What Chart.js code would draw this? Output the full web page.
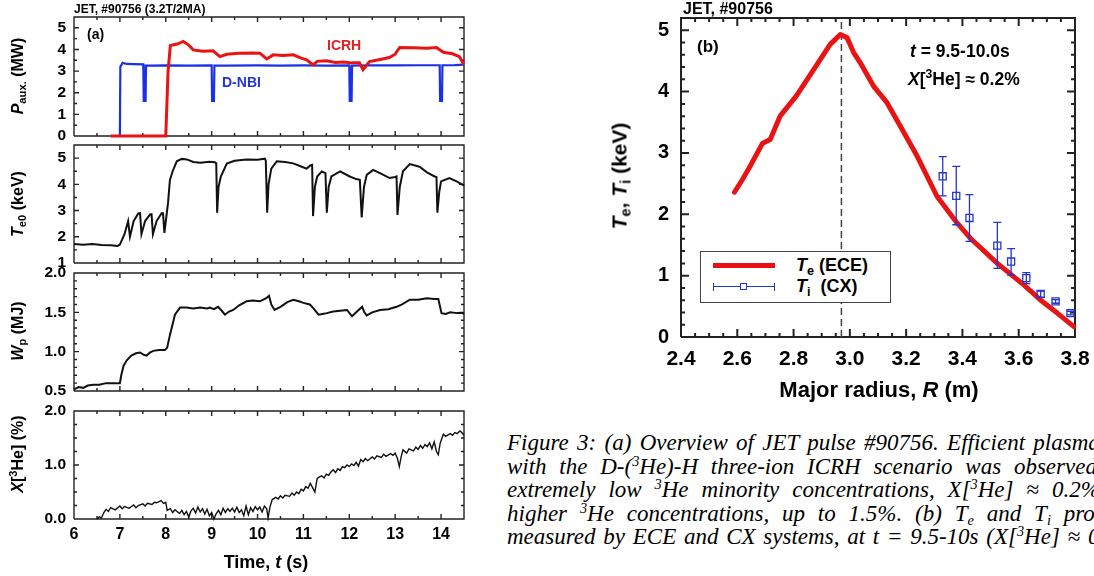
<!DOCTYPE html>
<html lang="en">
<head>
<meta charset="utf-8">
<title>JET #90756</title>
<script src="https://cdn.jsdelivr.net/npm/chart.js@4.4.1/dist/chart.umd.min.js"></script>
<style>
body {margin: 0; width: 1094px; height: 576px; overflow: hidden; position: relative; background: #fff;
      font-family: "Liberation Sans", Arial, sans-serif; color: #000;}
canvas {position: absolute;}
.lab {position: absolute; font-weight: bold; white-space: nowrap; line-height: 1;}
.rot {transform: translate(-50%, -50%) rotate(-90deg);}
.ctr {transform: translate(-50%, -50%);}
sub, sup {font-size: 70%; line-height: 0;}
sub {vertical-align: -0.3em;}
sup {vertical-align: 0.55em;}
#cap {position: absolute; left: 507px; top: 431px; font-family: "Liberation Serif", "Times New Roman", serif;
      font-style: italic; font-size: 23px; line-height: 23.6px;}
#cap div {white-space: nowrap;}
#cap sup, #cap sub {font-size: 62%;}
.sw {position: absolute;}
</style>
</head>
<body>
<canvas id="pAux" width="480" height="159" style="left:0;top:-3px"></canvas>
<canvas id="pTe" width="480" height="158" style="left:0;top:125px"></canvas>
<canvas id="pWp" width="480" height="158" style="left:0;top:253px"></canvas>
<canvas id="pHe" width="480" height="185" style="left:0;top:391px"></canvas>
<canvas id="pProf" width="505" height="387" style="left:600px;top:-7px"></canvas>

<!-- panel (a) texts -->
<div class="lab" style="left:74px;top:3px;font-size:12px">JET, #90756 (3.2T/2MA)</div>
<div class="lab" style="left:87px;top:27px;font-size:14px">(a)</div>
<div class="lab" style="left:327px;top:38px;font-size:14px;color:#e61e1e">ICRH</div>
<div class="lab" style="left:222px;top:75px;font-size:14px;color:#2233dd">D-NBI</div>
<div class="lab rot" style="left:18px;top:76px;font-size:16px"><i>P</i><sub>aux.</sub> (MW)</div>
<div class="lab rot" style="left:18px;top:204px;font-size:16px"><i>T</i><sub>e0</sub> (keV)</div>
<div class="lab rot" style="left:18px;top:331px;font-size:16px"><i>W</i><sub>p</sub> (MJ)</div>
<div class="lab rot" style="left:18px;top:454px;font-size:16px"><i>X</i>[<sup>3</sup>He] (%)</div>
<div class="lab ctr" style="left:266px;top:562px;font-size:18px">Time, <i>t</i> (s)</div>

<!-- panel (b) texts -->
<div class="lab" style="left:683px;top:1px;font-size:16px">JET, #90756</div>
<div class="lab" style="left:697px;top:38px;font-size:17px">(b)</div>
<div class="lab" style="left:910px;top:43px;font-size:17.5px"><i>t</i> = 9.5-10.0s</div>
<div class="lab" style="left:908px;top:71px;font-size:17.5px"><i>X</i>[<sup>3</sup>He] &asymp; 0.2%</div>
<div class="lab rot" style="left:619px;top:176px;font-size:21px"><i>T</i><sub>e</sub>, <i>T</i><sub>i</sub> (keV)</div>
<div class="lab ctr" style="left:879px;top:390px;font-size:22px">Major radius, <i>R</i> (m)</div>

<!-- legend of panel (b) -->
<div class="sw" style="left:700px;top:251px;width:189px;height:50px;border:1px solid #444;background:#fff"></div>
<div class="sw" style="left:713px;top:263px;width:62px;height:5px;background:#e81010"></div>
<div class="sw" style="left:713px;top:286px;width:62px;height:1.4px;background:#2535d0"></div>
<div class="sw" style="left:713px;top:283px;width:1.4px;height:8px;background:#2535d0"></div>
<div class="sw" style="left:774px;top:283px;width:1.4px;height:8px;background:#2535d0"></div>
<div class="sw" style="left:740px;top:283px;width:5px;height:5px;border:1.3px solid #2535d0;background:#fff"></div>
<div class="lab" style="left:796px;top:256px;font-size:18px"><i>T</i><sub>e</sub> (ECE)</div>
<div class="lab" style="left:796px;top:277px;font-size:18px"><i>T</i><sub>i</sub>&nbsp; (CX)</div>

<!-- caption; data-x is where the marked word should end (r) or start (l) -->
<div id="cap">
  <div data-x="1099" data-end="r">Figure 3: (a) Overview of JET pulse #90756. Efficient <span class="anc">plasma</span></div>
  <div data-x="1097" data-end="r">with the D-(<sup>3</sup>He)-H three-ion ICRH scenario was <span class="anc">observed</span></div>
  <div data-x="1100" data-end="r">extremely low <sup>3</sup>He minority concentrations, <i>X</i>[<sup>3</sup>He] &asymp; <span class="anc">0.2%</span></div>
  <div data-x="1064" data-end="l">higher <sup>3</sup>He concentrations, up to 1.5%. (b) T<sub>e</sub> and T<sub>i</sub> <span class="anc">profiles</span></div>
  <div data-x="1088" data-end="l">measured by ECE and CX systems, at t = 9.5-10s (X[<sup>3</sup>He] &asymp; <span class="anc">0.2%).</span></div>
</div>

<script>
// ---- data ----
// (a) auxiliary heating power, MW  [time s, value]
const icrhPower = [[6.8,0],[8.0,0],[8.05,3.0],[8.1,4.18],[8.25,4.25],[8.38,4.37],[8.5,4.2],[8.6,3.98],[8.8,3.92],
  [9.03,3.94],[9.18,3.67],[9.33,3.78],[9.6,3.82],[9.9,3.84],[10.05,3.83],[10.2,3.56],[10.34,3.75],[10.55,3.72],
  [10.78,3.75],[10.95,3.6],[11.07,3.52],[11.21,3.29],[11.3,3.45],[11.5,3.48],[11.7,3.4],[11.86,3.42],[12.05,3.38],
  [12.22,3.38],[12.3,3.06],[12.44,3.44],[12.7,3.55],[12.87,3.63],[13.0,3.78],[13.05,3.95],[13.1,4.09],[13.4,4.08],
  [13.7,4.06],[13.9,4.09],[14.05,3.87],[14.25,3.8],[14.4,3.67],[14.47,3.4],[14.5,3.3]];
const nbiPower = [[7.0,0],[7.01,3.2],[7.06,3.38],[7.15,3.33],[7.3,3.32],[7.51,3.31],[7.52,1.62],[7.56,1.62],[7.57,3.25],
  [7.7,3.25],[8.0,3.26],[8.5,3.25],[9.0,3.26],[9.01,1.62],[9.05,1.62],[9.06,3.25],[9.3,3.25],[10.0,3.26],[10.5,3.25],
  [11.0,3.26],[11.5,3.25],[12.0,3.26],[12.01,1.62],[12.05,1.62],[12.06,3.25],[12.5,3.27],[13.0,3.26],[13.5,3.27],
  [13.97,3.27],[13.98,1.62],[14.02,1.62],[14.03,3.27],[14.3,3.28],[14.5,3.3]];
// central electron temperature, keV
const te0 = [[6.0,1.72],[6.2,1.7],[6.4,1.72],[6.6,1.69],[6.8,1.68],[6.95,1.65],[7.0,1.7],[7.1,2.1],[7.18,2.6],[7.22,2.0],
  [7.3,2.6],[7.4,2.89],[7.44,2.9],[7.47,2.1],[7.55,2.6],[7.66,2.85],[7.69,2.86],[7.72,2.1],[7.8,2.6],[7.91,2.9],[7.94,2.9],
  [7.97,2.15],[8.05,3.3],[8.09,4.16],[8.15,4.5],[8.24,4.88],[8.35,4.97],[8.46,4.95],[8.6,4.85],[8.75,4.82],[8.95,4.86],
  [9.07,4.84],[9.1,4.8],[9.12,2.92],[9.15,3.9],[9.2,4.3],[9.33,4.79],[9.5,4.9],[9.76,4.95],[10.0,4.94],[10.16,4.98],
  [10.18,4.9],[10.21,2.92],[10.24,4.0],[10.3,4.6],[10.42,4.88],[10.6,4.85],[10.78,4.8],[10.95,4.68],[11.07,4.6],
  [11.15,4.72],[11.19,4.74],[11.21,2.79],[11.25,3.9],[11.3,4.3],[11.4,4.49],[11.48,4.43],[11.51,2.92],[11.55,3.9],
  [11.61,4.3],[11.8,4.49],[12.01,4.3],[12.15,4.2],[12.23,4.17],[12.27,2.74],[12.32,3.9],[12.38,4.36],[12.52,4.55],
  [12.7,4.4],[12.88,4.24],[13.0,4.28],[13.03,4.3],[13.05,2.83],[13.1,3.9],[13.17,4.5],[13.32,4.77],[13.53,4.67],
  [13.7,4.45],[13.86,4.3],[13.9,4.28],[13.92,2.92],[13.96,3.7],[14.0,4.11],[14.18,4.24],[14.35,4.1],[14.5,3.95]];
// plasma stored energy, MJ
const wp = [[6.0,0.52],[6.1,0.55],[6.2,0.54],[6.3,0.57],[6.42,0.58],[6.55,0.58],[6.7,0.6],[6.85,0.6],[7.0,0.6],[7.03,0.7],
  [7.08,0.82],[7.15,0.89],[7.25,0.95],[7.35,0.98],[7.44,0.99],[7.52,0.96],[7.58,0.95],[7.66,0.99],[7.73,1.01],[7.85,1.02],
  [7.98,1.02],[8.03,1.05],[8.09,1.21],[8.2,1.47],[8.31,1.56],[8.45,1.56],[8.6,1.55],[8.75,1.56],[8.9,1.55],[8.96,1.56],
  [9.05,1.54],[9.14,1.57],[9.22,1.52],[9.29,1.47],[9.38,1.51],[9.47,1.53],[9.6,1.59],[9.76,1.64],[9.9,1.65],[10.05,1.64],
  [10.19,1.68],[10.25,1.71],[10.3,1.6],[10.37,1.53],[10.5,1.57],[10.65,1.63],[10.78,1.66],[10.9,1.64],[11.0,1.62],
  [11.14,1.6],[11.22,1.55],[11.33,1.47],[11.42,1.48],[11.51,1.49],[11.65,1.51],[11.8,1.52],[11.95,1.53],[12.06,1.45],
  [12.15,1.5],[12.28,1.57],[12.33,1.5],[12.38,1.46],[12.5,1.5],[12.67,1.53],[12.85,1.54],[13.03,1.57],[13.15,1.6],
  [13.32,1.66],[13.5,1.66],[13.69,1.68],[13.85,1.67],[13.94,1.67],[14.01,1.49],[14.1,1.48],[14.2,1.5],[14.35,1.49],
  [14.47,1.49],[14.5,1.48]];
// 3He concentration, %
const he3 = [[6.5,0.0],[6.55,0.04],[6.6,0.02],[6.65,0.12],[6.7,0.18],[6.75,0.14],[6.8,0.21],[6.9,0.17],[7.0,0.24],
  [7.05,0.19],[7.1,0.23],[7.2,0.2],[7.3,0.26],[7.35,0.21],[7.4,0.25],[7.5,0.28],[7.55,0.24],[7.6,0.29],[7.7,0.27],
  [7.75,0.31],[7.8,0.3],[7.9,0.34],[7.95,0.29],[8.0,0.31],[8.03,0.16],[8.1,0.19],[8.15,0.12],[8.2,0.17],[8.3,0.1],
  [8.35,0.16],[8.4,0.08],[8.45,0.14],[8.5,0.04],[8.55,0.15],[8.6,0.2],[8.65,0.11],[8.7,0.22],[8.75,0.13],[8.8,0.19],
  [8.85,0.09],[8.9,0.18],[8.95,0.06],[9.0,0.12],[9.05,0.0],[9.1,0.1],[9.15,0.16],[9.2,0.08],[9.25,0.2],[9.3,0.12],
  [9.35,0.19],[9.4,0.14],[9.45,0.2],[9.5,0.13],[9.55,0.22],[9.6,0.12],[9.65,0.17],[9.7,0.06],[9.75,0.24],[9.8,0.08],
  [9.85,0.21],[9.9,0.14],[9.95,0.23],[10.0,0.17],[10.05,0.22],[10.1,0.13],[10.15,0.24],[10.2,0.19],[10.23,0.02],
  [10.27,0.22],[10.32,0.36],[10.4,0.4],[10.45,0.37],[10.5,0.43],[10.55,0.39],[10.6,0.44],[10.7,0.42],[10.75,0.48],
  [10.8,0.44],[10.85,0.5],[10.9,0.47],[10.95,0.55],[11.0,0.52],[11.05,0.6],[11.1,0.57],[11.15,0.66],[11.2,0.58],
  [11.25,0.5],[11.3,0.75],[11.35,0.78],[11.4,0.8],[11.45,0.76],[11.5,0.83],[11.55,0.81],[11.6,0.87],[11.65,0.91],
  [11.7,0.86],[11.75,0.93],[11.8,0.9],[11.85,0.97],[11.9,0.95],[11.95,1.0],[12.0,0.97],[12.05,1.02],[12.1,0.99],
  [12.15,1.05],[12.2,0.98],[12.25,1.1],[12.3,1.06],[12.35,1.12],[12.4,1.08],[12.5,1.15],[12.55,1.11],[12.6,1.17],
  [12.7,1.14],[12.75,1.2],[12.8,1.16],[12.9,1.21],[12.95,1.18],[13.0,1.22],[13.05,1.12],[13.09,0.97],[13.13,1.15],
  [13.17,1.28],[13.25,1.22],[13.3,1.3],[13.4,1.26],[13.45,1.33],[13.5,1.29],[13.55,1.36],[13.6,1.31],[13.65,1.38],
  [13.7,1.34],[13.75,1.41],[13.8,1.3],[13.85,1.43],[13.9,1.25],[13.94,1.19],[13.98,1.4],[14.05,1.57],[14.1,1.53],
  [14.2,1.58],[14.25,1.55],[14.3,1.6],[14.35,1.58],[14.41,1.63],[14.45,1.6],[14.5,1.55]];

// (b) profiles vs major radius
const teR = [2.59, 2.62, 2.645, 2.69, 2.717, 2.752, 2.81, 2.883, 2.93, 2.966, 2.99, 3.013, 3.037, 3.084, 3.132,
  3.179, 3.239, 3.31, 3.381, 3.428, 3.524, 3.618, 3.678, 3.737, 3.796];
const teECE = [2.36, 2.58, 2.78, 3.16, 3.22, 3.6, 3.93, 4.44, 4.77, 4.93, 4.88, 4.64, 4.47, 4.09, 3.82,
  3.44, 2.95, 2.29, 1.86, 1.61, 1.2, 0.85, 0.6, 0.39, 0.17];
const tiR = [3.33, 3.378, 3.425, 3.524, 3.573, 3.627, 3.678, 3.731, 3.784];
const tiCX = [2.62, 2.30, 1.94, 1.49, 1.23, 0.96, 0.70, 0.58, 0.39];
const tiLo = [2.30, 1.83, 1.56, 1.12, 1.01, 0.87, 0.65, 0.55, 0.36];
const tiHi = [2.94, 2.78, 2.32, 1.87, 1.44, 1.05, 0.75, 0.61, 0.42];
const peakR = 2.97;

const RED = '#e81414', BLUE = '#2535d0', NBI_BLUE = '#1a30e6', BLACK = '#111', AXIS = '#222';

Chart.defaults.font.family = '"Liberation Sans", Arial, sans-serif';
Chart.defaults.font.weight = 'bold';
Chart.defaults.color = '#000';
Chart.defaults.animation = false;
Chart.defaults.events = [];

const pts = arr => arr.map(p => ({x: p[0], y: p[1]}));
const zip = (xs, ys) => xs.map((x, i) => ({x: x, y: ys[i]}));

// axis box and inward ticks on all four sides, drawn as two line datasets
// ax/ay: {min, max, major, minor}; w/h: plot area size in px; tick lengths in px
function frameSets(ax, ay, w, h, majLen, minLen, lw) {
  const box = [{x: ax.min, y: ay.min}, {x: ax.max, y: ay.min}, {x: ax.max, y: ay.max},
               {x: ax.min, y: ay.max}, {x: ax.min, y: ay.min}];
  const isMajor = (v, step) => Math.abs(v / step - Math.round(v / step)) < 1e-6;
  const tk = [];
  const nx = Math.round((ax.max - ax.min) / ax.minor);
  for (let i = 1; i < nx; i++) {
    const v = ax.min + i * ax.minor;
    const d = (isMajor(v, ax.major) ? majLen : minLen) * (ay.max - ay.min) / h;
    tk.push({x: v, y: ay.min}, {x: v, y: ay.min + d}, {x: v, y: null},
            {x: v, y: ay.max}, {x: v, y: ay.max - d}, {x: v, y: null});
  }
  const ny = Math.round((ay.max - ay.min) / ay.minor);
  for (let i = 1; i < ny; i++) {
    const v = ay.min + i * ay.minor;
    const d = (isMajor(v, ay.major) ? majLen : minLen) * (ax.max - ax.min) / w;
    tk.push({x: ax.min, y: v}, {x: ax.min + d, y: v}, {x: null, y: v},
            {x: ax.max, y: v}, {x: ax.max - d, y: v}, {x: null, y: v});
  }
  const common = {borderColor: AXIS, borderWidth: lw, showLine: true, pointRadius: 0, tension: 0,
                  spanGaps: false, clip: false};
  return [Object.assign({data: box}, common), Object.assign({data: tk}, common)];
}

function line(data, color, width) {
  return {data: data, borderColor: color, borderWidth: width, showLine: true, pointRadius: 0, tension: 0, clip: false};
}

// one time panel of (a); plot area is 390 px wide and h px high
function timePanel(id, padBottom, h, yMin, yMax, yStep, yMinor, digits, datasets, showX) {
  const ax = {min: 6, max: 14.5, major: 1, minor: 0.5};
  const ay = {min: yMin, max: yMax, major: yStep, minor: yMinor};
  return new Chart(document.getElementById(id), {
    type: 'scatter',
    data: {datasets: datasets.concat(frameSets(ax, ay, 390, h, 5, 3, 1.4))},
    options: {
      responsive: false,
      layout: {padding: {top: 20, bottom: padBottom, left: 0, right: 16}},
      plugins: {legend: {display: false}, tooltip: {enabled: false}},
      scales: {
        x: {
          type: 'linear', min: ax.min, max: ax.max, display: showX,
          grid: {display: false, drawTicks: false}, border: {display: false},
          ticks: {stepSize: 1, includeBounds: false, autoSkip: false, padding: 6, font: {size: 16}},
          afterFit: s => { if (showX) s.height = 30; }
        },
        y: {
          type: 'linear', min: yMin, max: yMax,
          grid: {display: false, drawTicks: false}, border: {display: false},
          ticks: {stepSize: yStep, includeBounds: false, autoSkip: false, padding: 8, font: {size: 15.5},
                  callback: v => v.toFixed(digits)},
          afterFit: s => { s.width = 74; }
        }
      }
    }
  });
}

timePanel('pAux', 20, 119, 0, 5.5, 1, 0.5, 0,
  [line(pts(icrhPower), RED, 3), line(pts(nbiPower), NBI_BLUE, 2.2)], false);
timePanel('pTe', 20, 118, 1, 5.5, 1, 0.5, 0, [line(pts(te0), BLACK, 2)], false);
timePanel('pWp', 20, 118, 0.5, 2.0, 0.5, 0.1, 1, [line(pts(wp), BLACK, 2)], false);
timePanel('pHe', 27, 108, 0, 2.0, 1, 0.25, 1, [line(pts(he3), BLACK, 1.4)], true);

// error bars of the CX points, drawn just before the markers (dataset 0)
const errorBars = {
  id: 'errorBars',
  beforeDatasetDraw(chart, args) {
    if (args.index !== 0) return;
    const {ctx} = chart, xs = chart.scales.x, ys = chart.scales.y;
    ctx.save();
    ctx.strokeStyle = BLUE;
    ctx.lineWidth = 1.3;
    ctx.beginPath();
    tiR.forEach((r, i) => {
      const px = xs.getPixelForValue(r);
      const lo = ys.getPixelForValue(tiLo[i]), hi = ys.getPixelForValue(tiHi[i]);
      ctx.moveTo(px, lo); ctx.lineTo(px, hi);
      ctx.moveTo(px - 4, lo); ctx.lineTo(px + 4, lo);
      ctx.moveTo(px - 4, hi); ctx.lineTo(px + 4, hi);
    });
    ctx.stroke();
    ctx.restore();
  }
};

const axR = {min: 2.4, max: 3.8, major: 0.2, minor: 0.05};
const ayT = {min: 0, max: 5.2, major: 1, minor: 0.2};
new Chart(document.getElementById('pProf'), {
  type: 'scatter',
  data: {
    datasets: [
      {data: zip(tiR, tiCX), pointStyle: 'rect', pointRadius: 5, borderColor: BLUE, borderWidth: 1.3,
       backgroundColor: 'rgba(255,255,255,0)', clip: false},
      {data: zip(teR, teECE), borderColor: RED, borderWidth: 5, showLine: true, pointRadius: 0, tension: 0,
       borderCapStyle: 'round', borderJoinStyle: 'round', clip: false},
      {data: [{x: peakR, y: ayT.min}, {x: peakR, y: ayT.max}], borderColor: '#444', borderWidth: 1.5,
       borderDash: [7, 4], showLine: true, pointRadius: 0}
    ].concat(frameSets(axR, ayT, 394, 319, 8, 4, 2))
  },
  options: {
    responsive: false,
    layout: {padding: {top: 25, bottom: 3, left: 0, right: 30}},
    plugins: {legend: {display: false}, tooltip: {enabled: false}},
    scales: {
      x: {
        type: 'linear', min: axR.min, max: axR.max,
        grid: {display: false, drawTicks: false}, border: {display: false},
        ticks: {stepSize: 0.2, autoSkip: false, padding: 10, font: {size: 21}, callback: v => v.toFixed(1)},
        afterFit: s => { s.height = 40; }
      },
      y: {
        type: 'linear', min: ayT.min, max: ayT.max,
        grid: {display: false, drawTicks: false}, border: {display: false},
        ticks: {stepSize: 1, includeBounds: false, autoSkip: false, padding: 12, font: {size: 20}},
        afterFit: s => { s.width = 81; }
      }
    }
  },
  plugins: [errorBars]
});

// caption lines: spread the words so the marked word lands where it is in the figure
document.querySelectorAll('#cap div').forEach(d => {
  const a = d.querySelector('.anc');
  const edge = () => a.offsetLeft + (d.dataset.end === 'r' ? a.offsetWidth : 0);
  d.style.wordSpacing = '0px';
  const e0 = edge();
  d.style.wordSpacing = '10px';
  const n = (edge() - e0) / 10;
  const ws = n > 0 ? (Number(d.dataset.x) - 507 - e0) / n : 0;
  d.style.wordSpacing = Math.max(ws, -2) + 'px';
});
</script>
</body>
</html>
